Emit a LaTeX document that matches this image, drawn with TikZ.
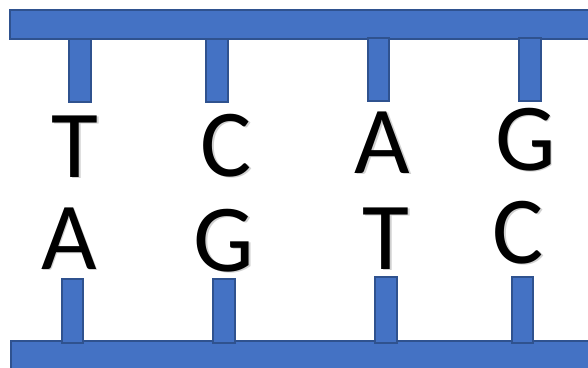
\documentclass[tikz,border=0pt]{standalone}
\usepackage{fontspec}
\setmainfont{Carlito}
\definecolor{barfill}{HTML}{4472C4}
\definecolor{barline}{HTML}{2F528F}
\tikzset{
  bar/.style={fill=barfill,draw=barline,line width=1.3pt},
  base/.style={font=\fontsize{96}{96}\selectfont,anchor=base,inner sep=0pt,text=black},
  baseshadow/.style={font=\fontsize{96}{96}\selectfont,anchor=base,inner sep=0pt,text=black!18},
}
\newcommand{\letter}[4]{%
  \node[baseshadow] (#1s) at (#2+1.5,#3+1.5) {#4};
  \node[base] (#1) at (#2,#3) {#4};}
\begin{document}
\begin{tikzpicture}[x=1pt,y=-1pt]
\useasboundingbox (0,0) rectangle (588,367);
\begin{scope}
\clip (0,0) rectangle (588,367);
% backbones
\draw[bar] (10,10) rectangle (595,39);
\draw[bar] (11,341) rectangle (595,375);
% top stubs
\draw[bar] (69,39) rectangle (91,102);
\draw[bar] (206,39) rectangle (228,102);
\draw[bar] (368,38) rectangle (389,101);
\draw[bar] (519,38) rectangle (541,101);
% bottom stubs
\draw[bar] (62,279) rectangle (83,343);
\draw[bar] (213,279) rectangle (235,343);
\draw[bar] (375,277) rectangle (397,343);
\draw[bar] (512,277) rectangle (533,343);
\end{scope}
% bases (with soft drop shadow)
\letter{t1}{75}{177}{T}
\letter{c1}{226.5}{176}{C}
\letter{a1}{382.5}{173}{A}
\letter{g1}{525.5}{170}{G}
\letter{a2}{69}{269}{A}
\letter{g2}{224}{271}{G}
\letter{t2}{386}{269}{T}
\letter{c2}{518.5}{263}{C}
\end{tikzpicture}
\end{document}
